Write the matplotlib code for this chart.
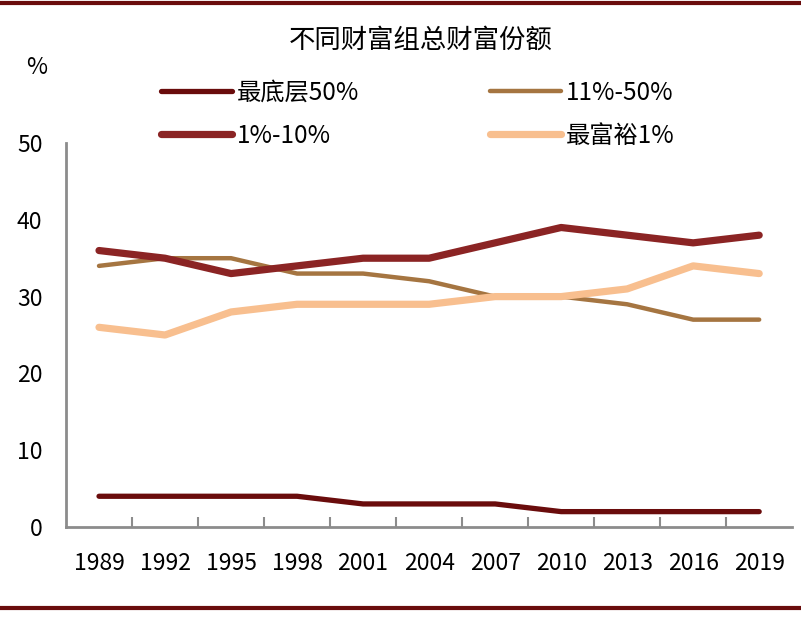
import matplotlib
matplotlib.use("Agg")
import matplotlib.pyplot as plt
from matplotlib.lines import Line2D

plt.rcParams['font.family'] = ['Noto Sans CJK SC', 'DejaVu Sans']

# wealth share by group, %
years = ['1989', '1992', '1995', '1998', '2001', '2004', '2007', '2010', '2013', '2016', '2019']
bottom50 = [4, 4, 4, 4, 3, 3, 3, 2, 2, 2, 2]
mid11_50 = [34, 35, 35, 33, 33, 32, 30, 30, 29, 27, 27]
top1_10 = [36, 35, 33, 34, 35, 35, 37, 39, 38, 37, 38]
top1 = [26, 25, 28, 29, 29, 29, 30, 30, 31, 34, 33]

fig = plt.figure(figsize=(8.01, 6.17), dpi=100)
ax = fig.add_axes([0.0824, 0.1459, 0.9066, 0.6223])

x = list(range(len(years)))
ax.plot(x, bottom50, color='#6a0c0c', lw=3.8, solid_capstyle='round', label='最底层50%')
ax.plot(x, mid11_50, color='#a57541', lw=3.2, solid_capstyle='round', label='11%-50%')
ax.plot(x, top1_10, color='#8b2424', lw=5.2, solid_capstyle='round', label='1%-10%')
ax.plot(x, top1, color='#f8bf8f', lw=5.2, solid_capstyle='round', label='最富裕1%')

ax.set_xlim(-0.5, len(years) - 0.5)
ax.set_ylim(0, 50)
ax.set_yticks([0, 10, 20, 30, 40, 50])
ax.set_xticks(x)
ax.set_xticklabels(years)
ax.set_xticks([i + 0.5 for i in x[:-1]], minor=True)
ax.tick_params(axis='x', which='major', length=0, pad=18, labelsize=16.5)
ax.tick_params(axis='x', which='minor', direction='in', length=7, width=1.5, color='#8c8c8c')
ax.tick_params(axis='y', length=0, pad=17, labelsize=16.5)

for s in ['top', 'right']:
    ax.spines[s].set_visible(False)
for s in ['left', 'bottom']:
    ax.spines[s].set_color('#8c8c8c')
    ax.spines[s].set_linewidth(2)

fig.text(0.525, 0.935, '不同财富组总财富份额', ha='center', va='center', fontsize=19)
fig.text(0.046, 0.89, '%', ha='center', va='center', fontsize=16.5)

handles, labels = ax.get_legend_handles_labels()
order = [0, 2, 1, 3]
leg = fig.legend([handles[i] for i in order], [labels[i] for i in order],
                 ncol=2, loc='center left', bbox_to_anchor=(0.174, 0.815),
                 frameon=False, fontsize=17.5, handlelength=2.9, handletextpad=0.2,
                 columnspacing=5.4, labelspacing=0.69)

# red rules at top and bottom
fig.add_artist(Line2D([0, 1], [0.995, 0.995], color='#6a0c0c', lw=3, transform=fig.transFigure))
fig.add_artist(Line2D([0, 1], [0.015, 0.015], color='#6a0c0c', lw=3, transform=fig.transFigure))

fig.savefig('out.png', dpi=100)
